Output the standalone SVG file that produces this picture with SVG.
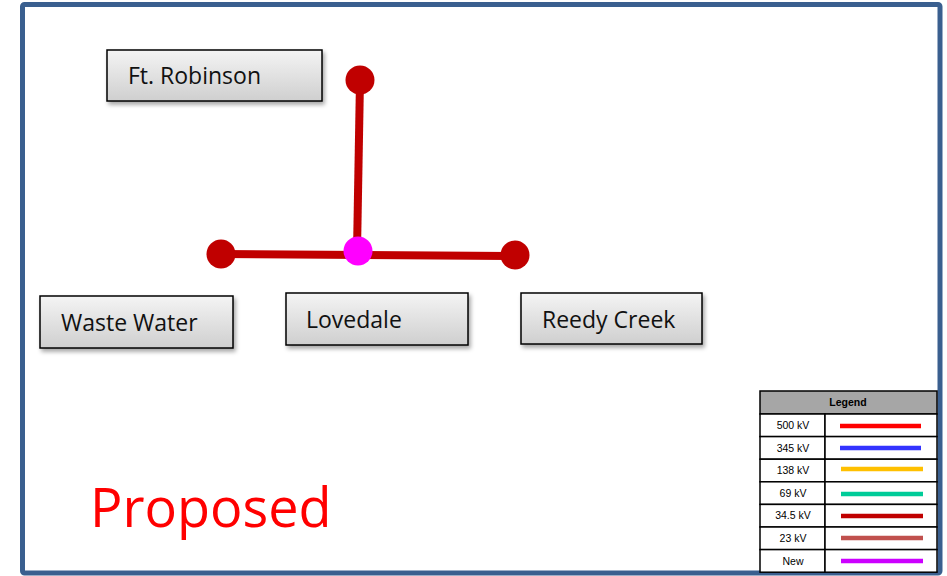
<svg xmlns="http://www.w3.org/2000/svg" width="947" height="576" viewBox="0 0 947 576">
<style>
.box{fill:url(#g);stroke:#000;stroke-width:1.5;filter:url(#sh)}
.lbl{font-family:"Open Sans","Liberation Sans",sans-serif;font-size:23px;fill:#111}
.wire{stroke:#C00000;stroke-width:8;fill:none}
.lg{font-family:"Liberation Sans",Arial,sans-serif;font-size:10.5px;fill:#000;text-anchor:middle}
.cell{fill:#fff;stroke:#000;stroke-width:1.5}
.sw{stroke-width:4.5}
</style>
<defs>
<linearGradient id="g" x1="0" y1="0" x2="0" y2="1">
<stop offset="0" stop-color="#F4F4F4"/>
<stop offset="1" stop-color="#CFCFCF"/>
</linearGradient>
<filter id="sh" x="-10%" y="-20%" width="125%" height="150%">
<feDropShadow dx="2" dy="3" stdDeviation="2" flood-color="#000" flood-opacity="0.35"/>
</filter>
</defs>
<rect x="0" y="0" width="947" height="576" fill="#fff"/>
<rect x="22.5" y="4.5" width="917.5" height="568.5" fill="#fff" stroke="#3A5F8F" stroke-width="5" rx="2"/>

<g id="connectors">
<line class="wire" x1="360" y1="80" x2="357" y2="251"/>
<line class="wire" x1="221" y1="254" x2="515" y2="256"/>
<circle cx="360" cy="80" r="14.5" fill="#C00000"/>
<circle cx="221" cy="254" r="14.5" fill="#C00000"/>
<circle cx="515" cy="255" r="14.5" fill="#C00000"/>
<circle cx="358" cy="251" r="14.5" fill="#FF00FF"/>
</g>

<g id="ft-robinson">
<rect class="box" x="107" y="50" width="215" height="51"/>
<text class="lbl" x="128" y="84">Ft. Robinson</text>
</g>
<g id="waste-water">
<rect class="box" x="40" y="296" width="193" height="52"/>
<text class="lbl" x="61" y="331">Waste Water</text>
</g>
<g id="lovedale">
<rect class="box" x="286" y="293" width="182" height="52"/>
<text class="lbl" x="306" y="328">Lovedale</text>
</g>
<g id="reedy-creek">
<rect class="box" x="521" y="293" width="181" height="51"/>
<text class="lbl" x="542" y="328">Reedy Creek</text>
</g>

<text x="90" y="527" font-family="'Open Sans','Liberation Sans',sans-serif" font-size="54" fill="#FF0000">Proposed</text>

<g id="legend">
<rect x="760" y="391" width="177" height="23" fill="#A6A6A6" stroke="#000" stroke-width="1.5"/>
<text class="lg" x="848" y="406" font-weight="bold">Legend</text>
<rect class="cell" x="760" y="414" width="65" height="22.6"/><rect class="cell" x="825" y="414" width="112" height="22.6"/>
<rect class="cell" x="760" y="436.6" width="65" height="22.6"/><rect class="cell" x="825" y="436.6" width="112" height="22.6"/>
<rect class="cell" x="760" y="459.2" width="65" height="22.6"/><rect class="cell" x="825" y="459.2" width="112" height="22.6"/>
<rect class="cell" x="760" y="481.8" width="65" height="22.6"/><rect class="cell" x="825" y="481.8" width="112" height="22.6"/>
<rect class="cell" x="760" y="504.4" width="65" height="22.6"/><rect class="cell" x="825" y="504.4" width="112" height="22.6"/>
<rect class="cell" x="760" y="527" width="65" height="22.6"/><rect class="cell" x="825" y="527" width="112" height="22.6"/>
<rect class="cell" x="760" y="549.6" width="65" height="22.6"/><rect class="cell" x="825" y="549.6" width="112" height="22.6"/>
<text class="lg" x="793" y="429">500 kV</text>
<text class="lg" x="793" y="452">345 kV</text>
<text class="lg" x="793" y="474">138 kV</text>
<text class="lg" x="793" y="497">69 kV</text>
<text class="lg" x="793" y="519">34.5 kV</text>
<text class="lg" x="793" y="542">23 kV</text>
<text class="lg" x="793" y="565">New</text>
<line class="sw" x1="840" y1="426" x2="921" y2="426" stroke="#FF0000"/>
<line class="sw" x1="840" y1="448" x2="921" y2="448" stroke="#3333FF"/>
<line class="sw" x1="841" y1="469" x2="923" y2="469" stroke="#FFC000"/>
<line class="sw" x1="841" y1="494" x2="923" y2="494" stroke="#00CC99"/>
<line class="sw" x1="841" y1="516" x2="923" y2="516" stroke="#C00000"/>
<line class="sw" x1="841" y1="538" x2="923" y2="538" stroke="#C0504D"/>
<line class="sw" x1="841" y1="561" x2="923" y2="561" stroke="#CC00FF"/>
</g>
</svg>
